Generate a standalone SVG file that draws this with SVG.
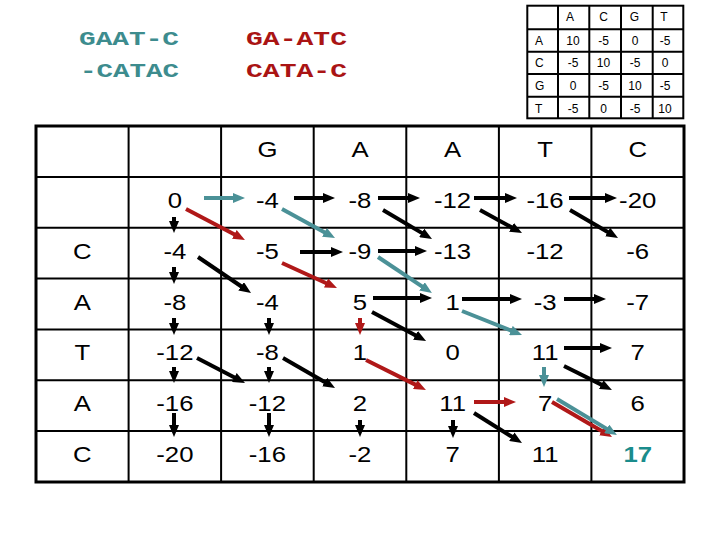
<svg xmlns="http://www.w3.org/2000/svg" width="720" height="540" viewBox="0 0 720 540">
<style>
.bg{fill:#fff}
.grid{fill:none;stroke:#000;stroke-width:2}
.outer{fill:none;stroke:#000;stroke-width:3}
.sm{fill:none;stroke:#000;stroke-width:2}
.v{font-family:"Liberation Sans",Arial,sans-serif;font-size:22px;text-anchor:middle;fill:#000;transform-box:fill-box;transform-origin:center;transform:scaleX(1.17)}
.best{font-weight:bold;fill:#1a8c8c}
.s{font-family:"Liberation Sans",Arial,sans-serif;font-size:12px;text-anchor:middle;fill:#000}
.sl{text-anchor:start}
.al{font-family:"Liberation Mono","Courier New",monospace;font-weight:bold;font-size:21px}
.teal{fill:#3d8c8e}
.red{fill:#aa1414}
#connectors line{stroke-width:4;fill:none}
.k{stroke:#000;marker-end:url(#mk)}
.t{stroke:#4b9197;marker-end:url(#mt)}
.r{stroke:#b01818;marker-end:url(#mr)}
</style>
<defs>
<marker id="mk" viewBox="0 0 12 10" refX="4" refY="5" markerWidth="12" markerHeight="10" markerUnits="userSpaceOnUse" orient="auto"><path d="M0,0 L12,5 L0,10 z" fill="#000"/></marker>
<marker id="mt" viewBox="0 0 12 10" refX="4" refY="5" markerWidth="12" markerHeight="10" markerUnits="userSpaceOnUse" orient="auto"><path d="M0,0 L12,5 L0,10 z" fill="#4b9197"/></marker>
<marker id="mr" viewBox="0 0 12 10" refX="4" refY="5" markerWidth="12" markerHeight="10" markerUnits="userSpaceOnUse" orient="auto"><path d="M0,0 L12,5 L0,10 z" fill="#b01818"/></marker>
</defs>
<rect class="bg" x="0" y="0" width="720" height="540"/>

<g id="alignment-teal">
<text class="al teal" x="79" y="45" textLength="100" lengthAdjust="spacingAndGlyphs">GAAT-C</text>
<text class="al teal" x="80" y="77" textLength="99" lengthAdjust="spacingAndGlyphs">-CATAC</text>
</g>
<g id="alignment-red">
<text class="al red" x="246" y="45" textLength="101" lengthAdjust="spacingAndGlyphs">GA-ATC</text>
<text class="al red" x="246" y="77" textLength="101" lengthAdjust="spacingAndGlyphs">CATA-C</text>
</g>

<g id="score-matrix">
<rect class="sm" x="527.3" y="5.7" width="156" height="112.6"/>
<path class="sm" d="M558,5.7V118.3M589.3,5.7V118.3M621,5.7V118.3M652.7,5.7V118.3M527.3,29.3H683.3M527.3,51.7H683.3M527.3,74H683.3M527.3,96.7H683.3"/>
<text class="s" x="570" y="21">A</text><text class="s" x="603.5" y="21">C</text><text class="s" x="634.5" y="21">G</text><text class="s" x="664" y="21">T</text>
<text class="s sl" x="535" y="45">A</text><text class="s" x="573" y="45">10</text><text class="s" x="603.5" y="45">-5</text><text class="s" x="635" y="45">0</text><text class="s" x="665" y="45">-5</text>
<text class="s sl" x="535" y="67">C</text><text class="s" x="573" y="67">-5</text><text class="s" x="603.5" y="67">10</text><text class="s" x="635" y="67">-5</text><text class="s" x="665" y="67">0</text>
<text class="s sl" x="535" y="90">G</text><text class="s" x="573" y="90">0</text><text class="s" x="603.5" y="90">-5</text><text class="s" x="635" y="90">10</text><text class="s" x="665" y="90">-5</text>
<text class="s sl" x="535" y="113">T</text><text class="s" x="573" y="113">-5</text><text class="s" x="603.5" y="113">0</text><text class="s" x="635" y="113">-5</text><text class="s" x="665" y="113">10</text>
</g>

<g id="dp-grid">
<path class="grid" d="M128.6,126V482M221.1,126V482M313.7,126V482M406.3,126V482M498.9,126V482M591.4,126V482M36,176.9H684M36,227.7H684M36,278.6H684M36,329.4H684M36,380.3H684M36,431.1H684"/>
<rect class="outer" x="36" y="126" width="648" height="356"/>
</g>

<g id="headers">
<g id="h-G"><text class="v" x="267.4" y="157">G</text></g>
<g id="h-A1"><text class="v" x="360" y="157">A</text></g>
<g id="h-A2"><text class="v" x="452.6" y="157">A</text></g>
<g id="h-T"><text class="v" x="545.1" y="157">T</text></g>
<g id="h-C"><text class="v" x="637.7" y="157">C</text></g>
<g id="r-C1"><text class="v" x="82.3" y="259">C</text></g>
<g id="r-A1"><text class="v" x="82.3" y="310">A</text></g>
<g id="r-T"><text class="v" x="82.3" y="360">T</text></g>
<g id="r-A2"><text class="v" x="82.3" y="411">A</text></g>
<g id="r-C2"><text class="v" x="82.3" y="462">C</text></g>
</g>

<g id="cells">
<g id="c1-1"><text class="v" x="174.9" y="208">0</text></g>
<g id="c1-2"><text class="v" x="267.4" y="208">-4</text></g>
<g id="c1-3"><text class="v" x="360" y="208">-8</text></g>
<g id="c1-4"><text class="v" x="452.6" y="208">-12</text></g>
<g id="c1-5"><text class="v" x="545.1" y="208">-16</text></g>
<g id="c1-6"><text class="v" x="637.7" y="208">-20</text></g>
<g id="c2-1"><text class="v" x="174.9" y="259">-4</text></g>
<g id="c2-2"><text class="v" x="267.4" y="259">-5</text></g>
<g id="c2-3"><text class="v" x="360" y="259">-9</text></g>
<g id="c2-4"><text class="v" x="452.6" y="259">-13</text></g>
<g id="c2-5"><text class="v" x="545.1" y="259">-12</text></g>
<g id="c2-6"><text class="v" x="637.7" y="259">-6</text></g>
<g id="c3-1"><text class="v" x="174.9" y="310">-8</text></g>
<g id="c3-2"><text class="v" x="267.4" y="310">-4</text></g>
<g id="c3-3"><text class="v" x="360" y="310">5</text></g>
<g id="c3-4"><text class="v" x="452.6" y="310">1</text></g>
<g id="c3-5"><text class="v" x="545.1" y="310">-3</text></g>
<g id="c3-6"><text class="v" x="637.7" y="310">-7</text></g>
<g id="c4-1"><text class="v" x="174.9" y="360">-12</text></g>
<g id="c4-2"><text class="v" x="267.4" y="360">-8</text></g>
<g id="c4-3"><text class="v" x="360" y="360">1</text></g>
<g id="c4-4"><text class="v" x="452.6" y="360">0</text></g>
<g id="c4-5"><text class="v" x="545.1" y="360">11</text></g>
<g id="c4-6"><text class="v" x="637.7" y="360">7</text></g>
<g id="c5-1"><text class="v" x="174.9" y="411">-16</text></g>
<g id="c5-2"><text class="v" x="267.4" y="411">-12</text></g>
<g id="c5-3"><text class="v" x="360" y="411">2</text></g>
<g id="c5-4"><text class="v" x="452.6" y="411">11</text></g>
<g id="c5-5"><text class="v" x="545.1" y="411">7</text></g>
<g id="c5-6"><text class="v" x="637.7" y="411">6</text></g>
<g id="c6-1"><text class="v" x="174.9" y="462">-20</text></g>
<g id="c6-2"><text class="v" x="267.4" y="462">-16</text></g>
<g id="c6-3"><text class="v" x="360" y="462">-2</text></g>
<g id="c6-4"><text class="v" x="452.6" y="462">7</text></g>
<g id="c6-5"><text class="v" x="545.1" y="462">11</text></g>
<g id="c6-6"><text class="v best" x="637.7" y="462">17</text></g>
</g>

<g id="connectors">
<line class="t" x1="204" y1="198" x2="237" y2="198"/>
<line class="k" x1="294" y1="198" x2="327" y2="198"/>
<line class="k" x1="378" y1="198" x2="412" y2="198"/>
<line class="k" x1="474" y1="198" x2="509" y2="198"/>
<line class="k" x1="569" y1="198" x2="609" y2="198"/>
<line class="r" x1="186" y1="209" x2="237.9" y2="236.3"/>
<line class="t" x1="282" y1="209" x2="328" y2="234.2"/>
<line class="k" x1="383" y1="210" x2="425.1" y2="234.9"/>
<line class="k" x1="480" y1="210" x2="515" y2="229.2"/>
<line class="k" x1="570" y1="210" x2="611.1" y2="234"/>
<line class="k" x1="174" y1="217" x2="174" y2="225"/>
<line class="k" x1="174" y1="267" x2="174" y2="276"/>
<line class="k" x1="174" y1="318" x2="174" y2="327"/>
<line class="k" x1="174" y1="367" x2="174" y2="375"/>
<line class="k" x1="174" y1="413" x2="174" y2="429"/>
<line class="k" x1="269" y1="318" x2="269" y2="327"/>
<line class="k" x1="269" y1="367" x2="269" y2="375"/>
<line class="k" x1="269" y1="413" x2="269" y2="429"/>
<line class="r" x1="360" y1="318" x2="360" y2="327"/>
<line class="k" x1="360" y1="420" x2="360" y2="429"/>
<line class="k" x1="453" y1="420" x2="453" y2="430"/>
<line class="t" x1="544" y1="367" x2="544" y2="379"/>
<line class="k" x1="300" y1="252" x2="335" y2="252"/>
<line class="k" x1="378" y1="251" x2="419" y2="251"/>
<line class="k" x1="198" y1="257" x2="244.4" y2="288.5"/>
<line class="r" x1="282" y1="263" x2="329.7" y2="284.7"/>
<line class="t" x1="378" y1="257" x2="425.3" y2="288.6"/>
<line class="k" x1="373" y1="298" x2="424" y2="298"/>
<line class="k" x1="462" y1="299" x2="514" y2="299"/>
<line class="k" x1="564" y1="299" x2="598" y2="299"/>
<line class="k" x1="372" y1="312" x2="419" y2="337.2"/>
<line class="t" x1="462" y1="311" x2="514.6" y2="332"/>
<line class="k" x1="564" y1="348" x2="604" y2="348"/>
<line class="k" x1="197" y1="358" x2="237.9" y2="379.3"/>
<line class="k" x1="283" y1="358" x2="328.1" y2="384"/>
<line class="r" x1="366" y1="360" x2="418.8" y2="386.4"/>
<line class="k" x1="564" y1="366" x2="604.8" y2="386.4"/>
<line class="r" x1="474" y1="402" x2="508" y2="402"/>
<line class="k" x1="474" y1="413" x2="515.2" y2="438.8"/>
<line class="r" x1="552" y1="402" x2="605.1" y2="433"/>
<line class="t" x1="557" y1="399" x2="610.1" y2="430.9"/>
</g>
</svg>
